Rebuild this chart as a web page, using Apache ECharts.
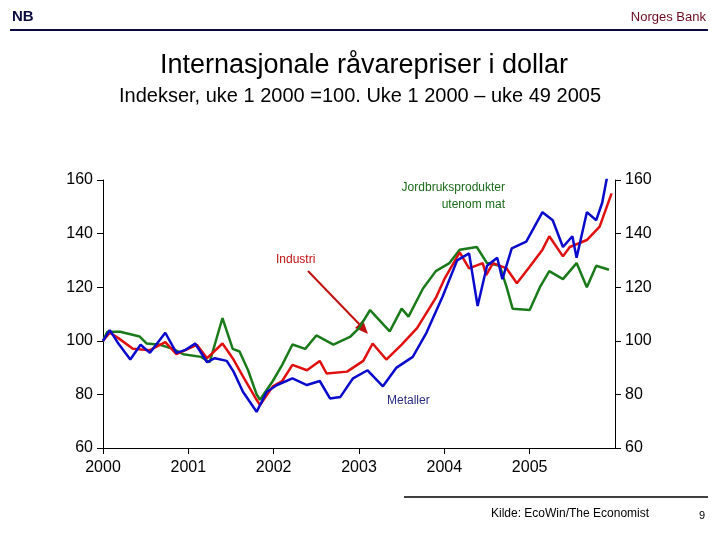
<!DOCTYPE html>
<html><head><meta charset="utf-8">
<script src="https://cdn.jsdelivr.net/npm/echarts@6/dist/echarts.min.js"></script>
<style>html,body{margin:0;padding:0;background:#fff}#c{width:720px;height:540px}</style>
</head><body><div id="c"></div>
<script>
const xTicks = [2000, 2001, 2002, 2003, 2004, 2005];
const yTicks = [60, 80, 100, 120, 140, 160];
const jordbruk = [[2000.0,100],[2000.05,103.4],[2000.2,103.4],[2000.43,101.6],[2000.51,99],[2000.67,98.5],[2000.82,97],[2000.94,95],[2001.15,94],[2001.25,92],[2001.4,108.5],[2001.52,97],[2001.6,96],[2001.7,89],[2001.8,80],[2001.84,78],[2001.99,85],[2002.1,91],[2002.22,98.6],[2002.37,97],[2002.5,102],[2002.7,98.6],[2002.9,101.6],[2003.0,104.7],[2003.13,111.5],[2003.2,109],[2003.36,103.5],[2003.5,112],[2003.58,109],[2003.75,119.5],[2003.9,126],[2004.06,129],[2004.18,134],[2004.38,135],[2004.5,129],[2004.65,128],[2004.73,120],[2004.8,112],[2005.0,111.5],[2005.12,120],[2005.23,126],[2005.39,123],[2005.55,129],[2005.67,120],[2005.78,128],[2005.93,126.5]];
const industri = [[2000.0,100],[2000.08,103],[2000.18,101],[2000.35,97],[2000.55,96.5],[2000.73,99.5],[2000.86,95],[2001.1,98.5],[2001.22,93.5],[2001.4,99],[2001.52,93.5],[2001.64,86.7],[2001.8,78],[2001.84,76],[2001.99,83],[2002.1,85],[2002.22,91],[2002.39,89],[2002.54,92.5],[2002.62,87.8],[2002.86,88.5],[2003.05,92.5],[2003.16,99],[2003.32,93],[2003.5,98.6],[2003.68,104.7],[2003.9,116],[2004.0,123],[2004.18,133],[2004.29,127],[2004.45,129],[2004.49,124.5],[2004.57,129],[2004.73,127],[2004.85,121.5],[2005.0,127.6],[2005.15,134],[2005.23,139],[2005.39,131.5],[2005.47,135],[2005.67,137.6],[2005.82,142.6],[2005.96,155]];
const metaller = [[2000.0,100],[2000.08,104],[2000.18,99],[2000.32,93],[2000.44,98.5],[2000.55,95.5],[2000.73,103],[2000.86,95.5],[2000.96,96.5],[2001.08,99],[2001.22,92],[2001.31,93.5],[2001.45,92.5],[2001.53,88.5],[2001.64,81],[2001.8,73.5],[2001.92,81],[2002.04,83.5],[2002.22,86],[2002.39,83.5],[2002.54,85],[2002.66,78.5],[2002.78,79],[2002.93,86],[2003.1,89],[2003.28,83],[2003.44,90],[2003.63,94],[2003.79,103],[2003.98,116.5],[2004.15,130],[2004.29,132.6],[2004.39,113],[2004.5,128],[2004.62,131],[2004.68,123],[2004.79,134.5],[2004.96,137],[2005.15,148],[2005.27,145],[2005.39,135],[2005.5,139],[2005.55,131],[2005.67,148],[2005.78,145],[2005.85,151.5],[2005.96,170]];

const chart = echarts.init(document.getElementById('c'));
const font = 'Liberation Sans, Arial, sans-serif';
const yAx = (pos) => ({type:'value', position:pos, min:60, max:160, interval:20,
  axisLine:{show:true, lineStyle:{color:'#000'}}, axisTick:{show:true, inside:false, length:6, lineStyle:{color:'#000'}},
  splitLine:{show:false}, axisLabel:{color:'#000', fontSize:16, fontFamily:font, margin:10,
  formatter:v=>yTicks.includes(v)?String(v):''}});
chart.setOption({
  animation:false,
  grid:{left:103, right:105, top:180, bottom:92},
  xAxis:{type:'value', min:2000, max:2006, interval:1,
    axisLine:{lineStyle:{color:'#000'}}, axisTick:{show:true, length:6, lineStyle:{color:'#000'}},
    splitLine:{show:false},
    axisLabel:{color:'#000', fontSize:16, fontFamily:font, margin:12, showMaxLabel:false,
      formatter:v=>xTicks.includes(v)?String(v):''}},
  yAxis:[yAx('left'), yAx('right')],
  series:[
    {type:'line', data:jordbruk, showSymbol:false, lineStyle:{color:'#1a7a1a', width:2.5}},
    {type:'line', data:industri, showSymbol:false, lineStyle:{color:'#e01010', width:2.5}},
    {type:'line', data:metaller, showSymbol:false, lineStyle:{color:'#0a0acc', width:2.5}}
  ],
  graphic:[
    {type:'text', left:12, top:9, style:{text:'NB', fontSize:15, fontWeight:'bold', fill:'#0a0a40', fontFamily:font}},
    {type:'text', right:14, top:11, style:{text:'Norges Bank', fontSize:13, fill:'#6a0a20', fontFamily:font}},
    {type:'line', shape:{x1:10, y1:30, x2:708, y2:30}, style:{stroke:'#0a0a40', lineWidth:2}},
    {type:'text', x:364, y:66, style:{text:'Internasjonale råvarepriser i dollar', fontSize:27, fill:'#000', fontFamily:font, align:'center', verticalAlign:'middle'}},
    {type:'text', x:360, y:96, style:{text:'Indekser, uke 1 2000 =100. Uke 1 2000 – uke 49 2005', fontSize:20, fill:'#000', fontFamily:font, align:'center', verticalAlign:'middle'}},
    {type:'text', x:505, y:196, style:{text:'Jordbruksprodukter\nutenom mat', fontSize:12, lineHeight:17, fill:'#1a6a1a', fontFamily:font, align:'right', verticalAlign:'middle'}},
    {type:'text', x:276, y:260, style:{text:'Industri', fontSize:12, fill:'#c01010', fontFamily:font, verticalAlign:'middle'}},
    {type:'text', x:387, y:401, style:{text:'Metaller', fontSize:12, fill:'#2a2a80', fontFamily:font, verticalAlign:'middle'}},
    {type:'line', shape:{x1:308, y1:271, x2:362, y2:327}, style:{stroke:'#c01010', lineWidth:2}},
    {type:'polygon', shape:{points:[[368,334],[355,328],[363,320]]}, style:{fill:'#c01010'}},
    {type:'line', shape:{x1:404, y1:497, x2:708, y2:497}, style:{stroke:'#000', lineWidth:1.5}},
    {type:'text', x:491, y:514, style:{text:'Kilde: EcoWin/The Economist', fontSize:12, fill:'#000', fontFamily:font, verticalAlign:'middle'}},
    {type:'text', x:699, y:516, style:{text:'9', fontSize:11, fill:'#000', fontFamily:font, verticalAlign:'middle'}}
  ]
});
</script></body></html>
